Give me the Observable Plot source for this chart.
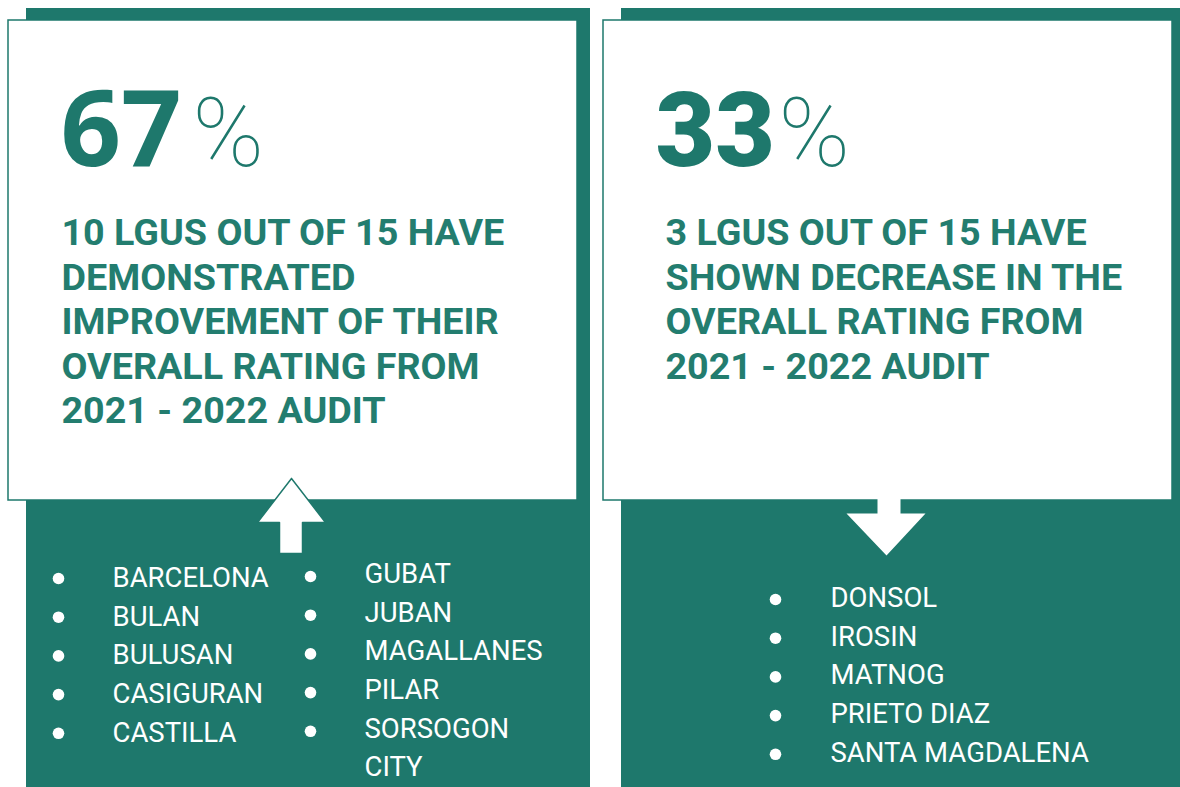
<!DOCTYPE html>
<html>
<head>
<meta charset="utf-8">
<script src="https://cdn.jsdelivr.net/npm/d3@7"></script>
<script src="https://cdn.jsdelivr.net/npm/@observablehq/plot@0.6"></script>
<style>
  html, body { margin: 0; padding: 0; background: #ffffff; }
  #chart svg { display: block; }
</style>
</head>
<body>
<div id="chart"></div>
<script>
// ---- data ----
const percents = [67, 33];
const lguCounts = [10, 3];
const totalLGUs = 15;
const headlines = [
  `${lguCounts[0]} LGUS OUT OF ${totalLGUs} HAVE\nDEMONSTRATED\nIMPROVEMENT OF THEIR\nOVERALL RATING FROM\n2021 - 2022 AUDIT`,
  `${lguCounts[1]} LGUS OUT OF ${totalLGUs} HAVE\nSHOWN DECREASE IN THE\nOVERALL RATING FROM\n2021 - 2022 AUDIT`
];
const improvedCol1 = ["BARCELONA", "BULAN", "BULUSAN", "CASIGURAN", "CASTILLA"];
const improvedCol2 = ["GUBAT", "JUBAN", "MAGALLANES", "PILAR", "SORSOGON\nCITY"];
const decreased = ["DONSOL", "IROSIN", "MATNOG", "PRIETO DIAZ", "SANTA MAGDALENA"];

// ---- layout ----
const W = 1180, H = 787;
const teal = "#1e786c";
const textTeal = "#237d6f";
const rowGap = 38.7;
const listSize = 27.5;

const panels = [
  {x1: 26, x2: 590, y1: 8, y2: H},
  {x1: 621, x2: W, y1: 8, y2: H}
];
const boxes = [
  {x1: 8, x2: 577, y1: 20, y2: 500},
  {x1: 603, x2: 1172, y1: 20, y2: 500}
];
const upArrow = [[291,478],[325,522],[302,522],[302,553],[279,553],[279,522],[257,522],[291,478]]
  .map(([x, y]) => ({x, y}));
const downArrow = [[877,496],[900,496],[900,513],[925,513],[886,555],[846,513],[877,513],[877,496]]
  .map(([x, y]) => ({x, y}));

const list = (names, bx, tx, by0, ty0) => names.map((name, i) => ({
  name, bx, tx, y: by0 + i * rowGap, ty: ty0 + i * rowGap - 18
}));
const items = [
  ...list(improvedCol1, 58, 112, 578, 577),
  ...list(improvedCol2, 310, 364, 576, 573),
  ...list(decreased, 775, 830, 599, 597)
];

const bigNums = [
  {x: 60, y: 165, t: String(percents[0]), font: "Open Sans", w: 700, size: 106},
  {x: 655, y: 165, t: String(percents[1]), font: "Roboto", w: 900, size: 103}
];
const pctSigns = [
  {x: 192, y: 165},
  {x: 778, y: 165}
];
const heads = [
  {x: 61, y: 213, t: headlines[0]},
  {x: 665, y: 213, t: headlines[1]}
];

const chart = Plot.plot({
  width: W,
  height: H,
  margin: 0,
  x: {domain: [0, W], range: [0, W], axis: null},
  y: {domain: [0, H], range: [0, H], axis: null},
  marks: [
    Plot.rect(panels, {x1: "x1", x2: "x2", y1: "y1", y2: "y2", fill: teal}),
    Plot.rect(boxes, {x1: "x1", x2: "x2", y1: "y1", y2: "y2", fill: "#ffffff", stroke: teal, strokeWidth: 1.5}),
    Plot.line(upArrow, {x: "x", y: "y", fill: "#ffffff", stroke: teal, strokeWidth: 1.5, curve: "linear"}),
    Plot.line(downArrow, {x: "x", y: "y", fill: "#ffffff", stroke: null, curve: "linear"}),
    Plot.dot(items, {x: "bx", y: "y", r: 5.8, fill: "#ffffff", stroke: null}),
    Plot.text(items, {
      x: "tx", y: "ty", text: "name", textAnchor: "start", lineAnchor: "top",
      fill: "#ffffff", fontSize: listSize, fontFamily: "Roboto", fontWeight: 400, lineHeight: rowGap / listSize
    }),
    ...bigNums.map(d => Plot.text([d], {
      x: "x", y: "y", text: "t", textAnchor: "start", lineAnchor: "bottom",
      fill: teal, fontSize: d.size, fontFamily: d.font, fontWeight: d.w
    })),
    Plot.text(pctSigns, {
      x: "x", y: "y", text: () => "%", textAnchor: "start", lineAnchor: "bottom",
      fill: teal, fontSize: 96, fontFamily: "Roboto", fontWeight: 100
    }),
    Plot.text(heads, {
      x: "x", y: "y", text: "t", textAnchor: "start", lineAnchor: "top",
      fill: textTeal, fontSize: 37.7, fontFamily: "Roboto", fontWeight: 700, lineHeight: 44.5 / 37.7
    })
  ]
});
document.getElementById("chart").appendChild(chart);
</script>
</body>
</html>
